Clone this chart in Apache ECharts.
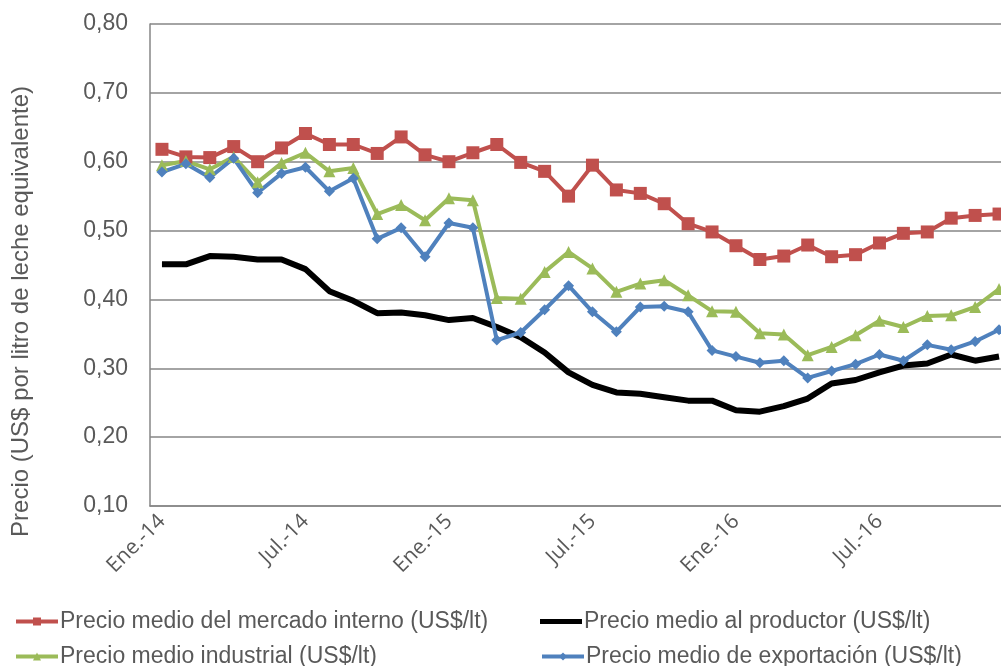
<!DOCTYPE html>
<html>
<head>
<meta charset="utf-8">
<script src="https://cdn.jsdelivr.net/npm/echarts@6/dist/echarts.min.js"></script>
<style>
  html, body { margin: 0; padding: 0; background: #fff; }
  #chart { width: 1001px; height: 666px; }
</style>
</head>
<body>
<div id="chart"></div>
<script>
// meses Ene.-14 ... Dic.-16
const meses = ["Ene.", "Feb.", "Mar.", "Abr.", "May.", "Jun.", "Jul.", "Ago.", "Sep.", "Oct.", "Nov.", "Dic."];
const anios = ["14", "15", "16"];
const categorias = [];
anios.forEach(function (a) {
  meses.forEach(function (m) { categorias.push(m + "-" + a); });
});

const mercadoInterno = [
  0.618, 0.607, 0.606, 0.622, 0.600, 0.620, 0.641, 0.625, 0.625, 0.612, 0.636, 0.610,
  0.600, 0.613, 0.625, 0.599, 0.586, 0.550, 0.595, 0.559, 0.554, 0.539, 0.510, 0.498,
  0.478, 0.458, 0.463, 0.479, 0.462, 0.465, 0.482, 0.496, 0.498, 0.518, 0.522, 0.524
];
const productor = [
  0.451, 0.451, 0.463, 0.462, 0.458, 0.458, 0.444, 0.412, 0.398, 0.380, 0.381, 0.377,
  0.370, 0.373, 0.360, 0.345, 0.323, 0.294, 0.276, 0.265, 0.263, 0.258, 0.253, 0.253,
  0.239, 0.237, 0.245, 0.256, 0.278, 0.283, 0.294, 0.304, 0.307, 0.320, 0.311, 0.317
];
const industrial = [
  0.595, 0.601, 0.589, 0.607, 0.570, 0.598, 0.613, 0.586, 0.591, 0.524, 0.537, 0.515,
  0.547, 0.544, 0.402, 0.401, 0.440, 0.469, 0.445, 0.411, 0.423, 0.428, 0.406, 0.383,
  0.382, 0.351, 0.349, 0.319, 0.331, 0.348, 0.369, 0.360, 0.376, 0.377, 0.389, 0.415
];
const exportacion = [
  0.585, 0.597, 0.577, 0.605, 0.555, 0.583, 0.592, 0.557, 0.576, 0.488, 0.504, 0.462,
  0.511, 0.504, 0.341, 0.352, 0.385, 0.420, 0.382, 0.353, 0.389, 0.390, 0.382, 0.326,
  0.317, 0.308, 0.311, 0.286, 0.296, 0.306, 0.320, 0.311, 0.334, 0.327, 0.339, 0.356
];

const nombres = [
  "Precio medio del mercado interno (US$/lt)",
  "Precio medio al productor (US$/lt)",
  "Precio medio industrial (US$/lt)",
  "Precio medio de exportación (US$/lt)"
];
const tituloY = "Precio (US$ por litro de leche equivalente)";

const gris = "#595959";
const chart = echarts.init(document.getElementById("chart"));

function leyenda(item, left, top, alto) {
  return {
    data: [item],
    left: left,
    top: top,
    padding: 0,
    itemWidth: 42,
    itemHeight: alto,
    itemGap: 0,
    lineStyle: { width: 4 },
    textStyle: { fontFamily: "Liberation Sans", fontSize: 23, color: gris, padding: [0, 0, 0, -3] }
  };
}

chart.setOption({
  animation: false,
  backgroundColor: "#fff",
  grid: { left: 150, top: 24, height: 482, width: 861, outerBoundsMode: "none" },
  legend: [
    leyenda(nombres[0], 14, 610, 10),
    leyenda({ name: nombres[1], icon: "rect" }, 540, 610, 5),
    leyenda(nombres[2], 14, 645, 10),
    leyenda(nombres[3], 540, 645, 10)
  ],
  graphic: [{
    type: "text",
    left: 9,
    top: 86,
    rotation: Math.PI / 2,
    style: { text: tituloY, fill: gris, font: "24px 'Liberation Sans'" }
  }],
  xAxis: {
    type: "category",
    data: categorias,
    boundaryGap: true,
    axisLine: { lineStyle: { color: "#868686", width: 1.5 } },
    axisTick: { show: false },
    axisLabel: {
      interval: 5,
      rotate: 45,
      color: gris,
      fontFamily: "Open Sans",
      fontSize: 21,
      margin: 12
    }
  },
  yAxis: {
    type: "value",
    min: 0.1,
    max: 0.8,
    interval: 0.1,
    axisLine: { show: true, lineStyle: { color: "#868686", width: 1.5 } },
    axisTick: { show: false },
    splitLine: { lineStyle: { color: "#868686", width: 1.5 } },
    axisLabel: {
      color: gris,
      fontFamily: "Liberation Sans",
      fontSize: 23,
      margin: 22,
      formatter: function (v) { return v.toFixed(2).replace(".", ","); }
    }
  },
  series: [
    {
      name: nombres[0], type: "line", data: mercadoInterno,
      symbol: "rect", symbolSize: 13,
      itemStyle: { color: "#C0504D" },
      lineStyle: { color: "#C0504D", width: 4 }
    },
    {
      name: nombres[1], type: "line", data: productor,
      symbol: "none",
      itemStyle: { color: "#000" },
      lineStyle: { color: "#000", width: 6 }
    },
    {
      name: nombres[2], type: "line", data: industrial,
      symbol: "triangle", symbolSize: 12,
      itemStyle: { color: "#9BBB59" },
      lineStyle: { color: "#9BBB59", width: 4 }
    },
    {
      name: nombres[3], type: "line", data: exportacion,
      symbol: "diamond", symbolSize: 11,
      itemStyle: { color: "#4F81BD" },
      lineStyle: { color: "#4F81BD", width: 4 }
    }
  ]
});
</script>
</body>
</html>
